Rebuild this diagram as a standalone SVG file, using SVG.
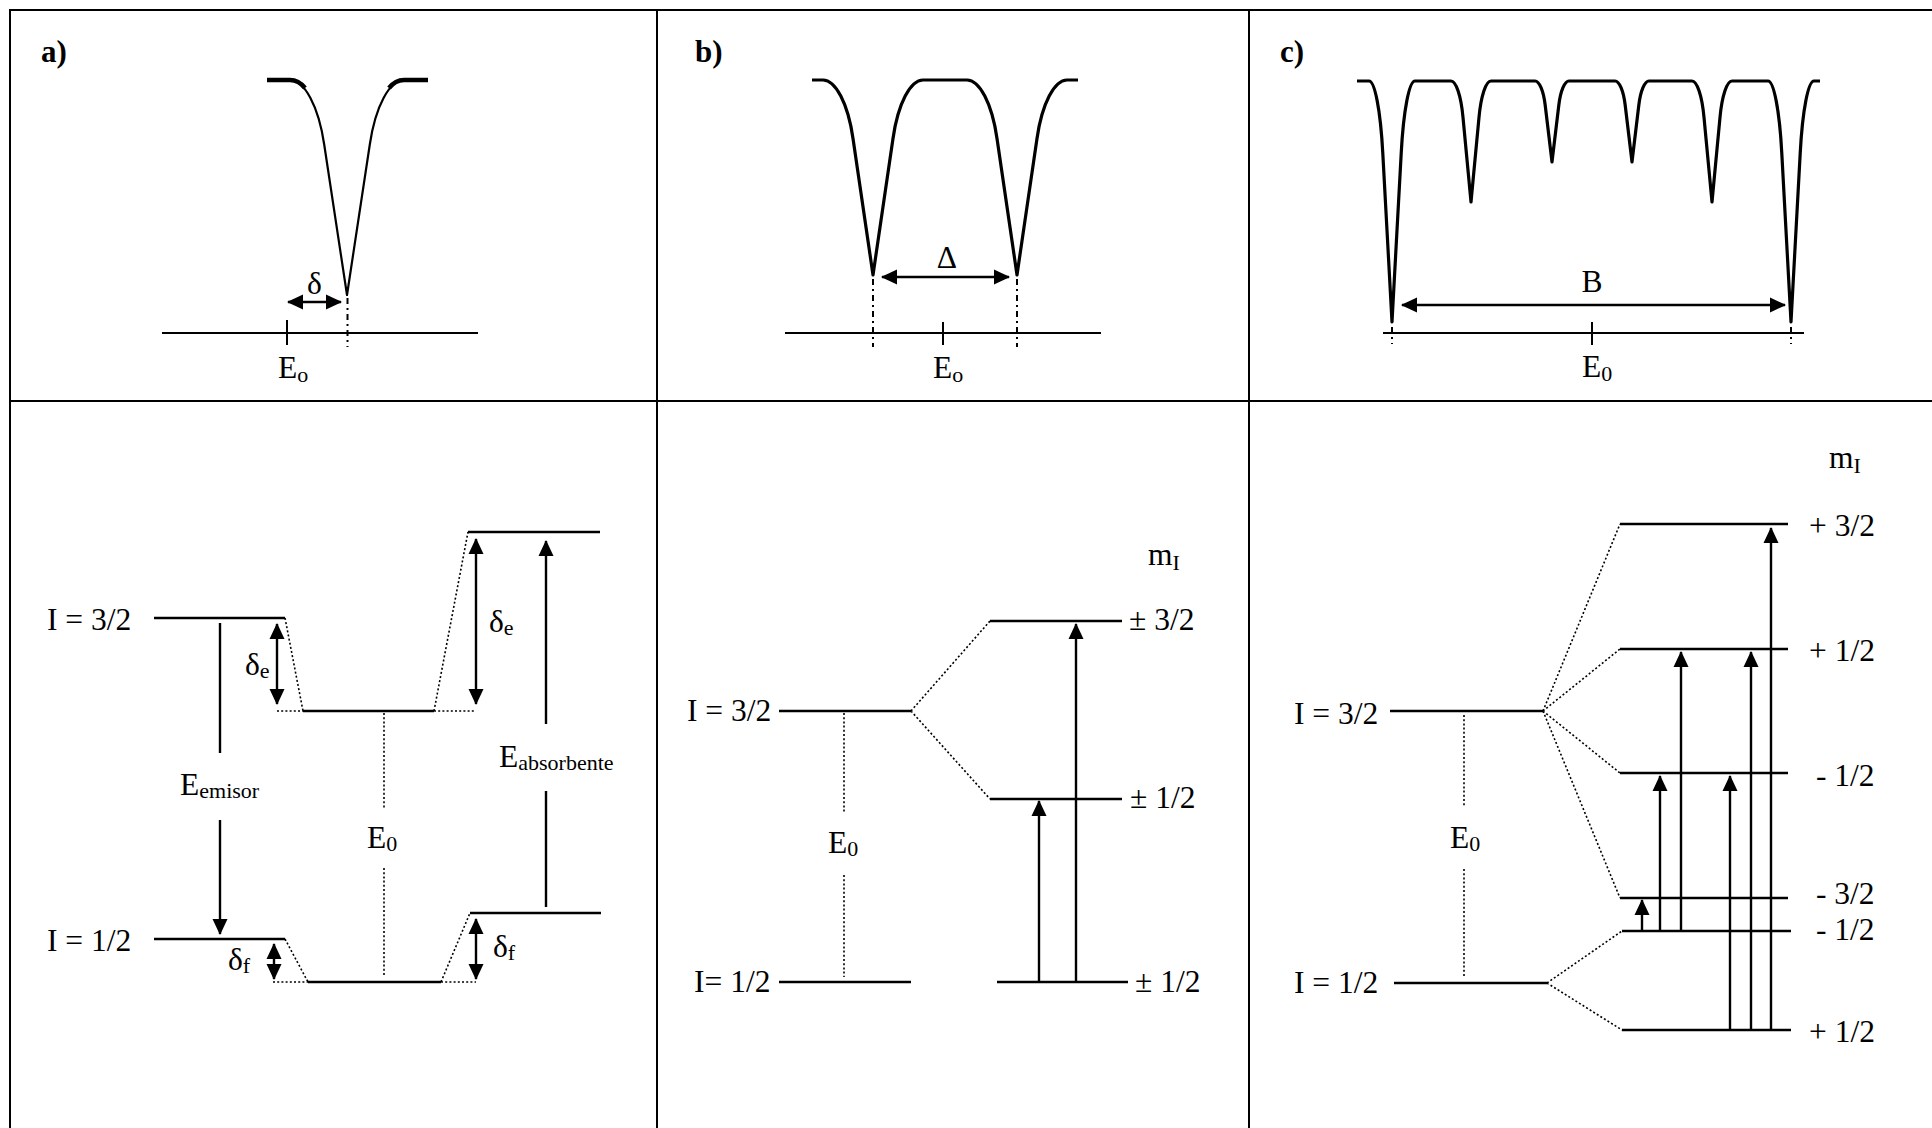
<svg xmlns="http://www.w3.org/2000/svg" width="1932" height="1128" viewBox="0 0 1932 1128">
<defs>
<style>
.fr{stroke:#000;stroke-width:2;fill:none}
.lv{stroke:#000;stroke-width:2.5;fill:none}
.ax{stroke:#000;stroke-width:2;fill:none}
.dt{stroke:#000;stroke-width:1.6;stroke-dasharray:2 2.2;fill:none}
.dd{stroke:#000;stroke-width:2;stroke-dasharray:6 4 2 4;fill:none}
.ar{stroke:#000;stroke-width:2.4;fill:none;marker-end:url(#ah)}
.da{stroke:#000;stroke-width:2.4;fill:none;marker-start:url(#ah);marker-end:url(#ah)}
.ln{stroke:#000;stroke-width:2.4;fill:none}
.cv{stroke:#000;stroke-width:3.2;fill:none;stroke-linejoin:round;stroke-linecap:butt}
.cvt{stroke:#000;stroke-width:2.2;fill:none;stroke-linejoin:round}
.t{font-family:"Liberation Serif","Times New Roman",serif;font-size:31.5px;fill:#000}
.s{font-size:22px}
.b{font-weight:bold;font-size:31px}
</style>
<marker id="ah" viewBox="0 0 16 16" refX="15" refY="8" markerWidth="16" markerHeight="16" markerUnits="userSpaceOnUse" orient="auto-start-reverse">
<path d="M0,0.5 L16,8 L0,15.5 Z" fill="#000"/>
</marker>
</defs>
<rect width="1932" height="1128" fill="#fff"/>

<g id="frame">
<line class="fr" x1="9" y1="10" x2="1932" y2="10"/>
<line class="fr" x1="10" y1="10" x2="10" y2="1128"/>
<line class="fr" x1="657" y1="10" x2="657" y2="1128"/>
<line class="fr" x1="1249" y1="10" x2="1249" y2="1128"/>
<line class="fr" x1="10" y1="401" x2="1932" y2="401"/>
</g>

<g id="panel-a-top">
<text class="t b" x="41" y="62">a)</text>
<path class="cvt" d="M267,80 L290,80 C304.25,80 318.5,105.8 324.2,144.5 L347,295 L369.8,144.5 C375.5,105.8 389.75,80 404,80 L428,80"/>
<path stroke="#000" stroke-width="4.5" fill="none" d="M267,80 L290,80 C296,80 301,83 305,88"/>
<path stroke="#000" stroke-width="4.5" fill="none" d="M428,80 L404,80 C398,80 393,83 389,88"/>
<line class="ax" x1="162" y1="333" x2="478" y2="333"/>
<line class="ax" x1="287" y1="320" x2="287" y2="345"/>
<line class="dd" x1="347.5" y1="298" x2="347.5" y2="347"/>
<text class="t" x="307" y="294">δ</text>
<text class="t" x="278" y="378">E<tspan class="s" dy="4">o</tspan></text>
</g>

<g id="panel-b-top">
<text class="t b" x="695" y="62">b)</text>
<path class="cv" d="M812,80 L823,80 C835.5,80 848,103.4 853,138.5 L873,275 L893,138.5 C898,103.4 910.5,80 923,80 L967,80 C979.5,80 992,103.4 997,138.5 L1017,275 L1037,138.5 C1042,103.4 1054.5,80 1067,80 L1078,80"/>
<line class="ax" x1="785" y1="333" x2="1101" y2="333"/>
<line class="ax" x1="943" y1="322" x2="943" y2="345"/>
<line class="dd" x1="873" y1="279" x2="873" y2="347"/>
<line class="dd" x1="1017" y1="279" x2="1017" y2="347"/>
<text class="t" x="947" y="268" text-anchor="middle">Δ</text>
<text class="t" x="933" y="378">E<tspan class="s" dy="4">o</tspan></text>
</g>

<g id="panel-c-top">
<text class="t b" x="1280" y="62">c)</text>
<path class="cv" d="M1357,81 L1369,81 C1374.75,81 1380.5,109.9 1382.8,153.3 L1392,322 L1401.2,153.3 C1403.5,109.9 1409.25,81 1415,81 L1451,81 C1456,81 1461,95.5 1463,117.3 L1471,202 L1479,117.3 C1481,95.5 1486,81 1491,81 L1535,81 C1539.25,81 1543.5,90.7 1545.2,105.3 L1552,162 L1558.8,105.3 C1560.5,90.7 1564.75,81 1569,81 L1615,81 C1619.25,81 1623.5,90.7 1625.2,105.3 L1632,162 L1638.8,105.3 C1640.5,90.7 1644.75,81 1649,81 L1692,81 C1697,81 1702,95.5 1704,117.3 L1712,202 L1720,117.3 C1722,95.5 1727,81 1732,81 L1768,81 C1773.75,81 1779.5,109.9 1781.8,153.3 L1791,322 L1800.2,153.3 C1802.5,109.9 1808.25,81 1814,81 L1820,81"/>
<line class="ax" x1="1383" y1="333" x2="1804" y2="333"/>
<line class="ax" x1="1592" y1="322" x2="1592" y2="345"/>
<line class="dd" x1="1392" y1="327" x2="1392" y2="344"/>
<line class="dd" x1="1791" y1="327" x2="1791" y2="344"/>
<text class="t" x="1592" y="292" text-anchor="middle">B</text>
<text class="t" x="1582" y="377">E<tspan class="s" dy="4">0</tspan></text>
</g>

<g id="panel-a-bottom">
<line class="lv" x1="154" y1="618" x2="285" y2="618"/>
<line class="lv" x1="303" y1="711" x2="434" y2="711"/>
<line class="lv" x1="468" y1="532" x2="600" y2="532"/>
<line class="lv" x1="154" y1="939" x2="285" y2="939"/>
<line class="lv" x1="308" y1="982" x2="441" y2="982"/>
<line class="lv" x1="470" y1="913" x2="601" y2="913"/>
<path class="dt" d="M285,618 L303,711 M277,711 L303,711 M434,711 L476,711 M434,711 L468,532 M285,939 L308,982 M273,982 L308,982 M441,982 L476,982 M441,982 L470,913"/>
<path class="dt" d="M384,713 L384,808 M384,868 L384,977"/>
<text class="t" x="47" y="630">I = 3/2</text>
<text class="t" x="47" y="951">I = 1/2</text>
<text class="t" x="245" y="675">δ<tspan class="s" dy="3">e</tspan></text>
<text class="t" x="489" y="632">δ<tspan class="s" dy="3">e</tspan></text>
<text class="t" x="228" y="970">δ<tspan class="s" dy="3">f</tspan></text>
<text class="t" x="493" y="957">δ<tspan class="s" dy="3">f</tspan></text>
<text class="t" x="180" y="795">E<tspan class="s" dy="3">emisor</tspan></text>
<text class="t" x="367" y="848">E<tspan class="s" dy="3">0</tspan></text>
<text class="t" x="499" y="767">E<tspan class="s" dy="3">absorbente</tspan></text>
</g>

<g id="panel-b-bottom">
<line class="lv" x1="779" y1="711" x2="911" y2="711"/>
<line class="lv" x1="990" y1="621" x2="1122" y2="621"/>
<line class="lv" x1="990" y1="799" x2="1122" y2="799"/>
<line class="lv" x1="779" y1="982" x2="911" y2="982"/>
<line class="lv" x1="997" y1="982" x2="1128" y2="982"/>
<path class="dt" d="M911,711 L990,621 M911,711 L990,799"/>
<path class="dt" d="M844,713 L844,813 M844,875 L844,977"/>
<text class="t" x="1148" y="565">m<tspan class="s" dy="5">I</tspan></text>
<text class="t" x="1129" y="630">± 3/2</text>
<text class="t" x="1130" y="808">± 1/2</text>
<text class="t" x="1135" y="992">± 1/2</text>
<text class="t" x="687" y="721">I = 3/2</text>
<text class="t" x="694" y="992">I= 1/2</text>
<text class="t" x="828" y="853">E<tspan class="s" dy="3">0</tspan></text>
</g>

<g id="panel-c-bottom">
<line class="lv" x1="1390" y1="711" x2="1543" y2="711"/>
<line class="lv" x1="1394" y1="983" x2="1547" y2="983"/>
<line class="lv" x1="1620" y1="524" x2="1788" y2="524"/>
<line class="lv" x1="1620" y1="649" x2="1788" y2="649"/>
<line class="lv" x1="1620" y1="773" x2="1788" y2="773"/>
<line class="lv" x1="1620" y1="898" x2="1788" y2="898"/>
<line class="lv" x1="1622" y1="931" x2="1791" y2="931"/>
<line class="lv" x1="1622" y1="1030" x2="1791" y2="1030"/>
<path class="dt" d="M1543,711 L1620,524 M1543,711 L1620,649 M1543,711 L1620,773 M1543,711 L1620,898 M1547,983 L1622,931 M1547,983 L1622,1030"/>
<path class="dt" d="M1464,715 L1464,807 M1464,869 L1464,977"/>
<text class="t" x="1829" y="468">m<tspan class="s" dy="5">I</tspan></text>
<text class="t" x="1809" y="536">+ 3/2</text>
<text class="t" x="1809" y="661">+ 1/2</text>
<text class="t" x="1816" y="786">- 1/2</text>
<text class="t" x="1816" y="904">- 3/2</text>
<text class="t" x="1816" y="940">- 1/2</text>
<text class="t" x="1809" y="1042">+ 1/2</text>
<text class="t" x="1294" y="724">I = 3/2</text>
<text class="t" x="1294" y="993">I = 1/2</text>
<text class="t" x="1450" y="848">E<tspan class="s" dy="3">0</tspan></text>
</g>

<g id="connectors">
<line class="da" x1="288" y1="302" x2="341" y2="302"/>
<line class="da" x1="882" y1="277" x2="1009" y2="277"/>
<line class="da" x1="1402" y1="305" x2="1785" y2="305"/>
<line class="da" x1="277" y1="624" x2="277" y2="704"/>
<line class="da" x1="476" y1="539" x2="476" y2="704"/>
<line class="da" x1="274" y1="944" x2="274" y2="979"/>
<line class="da" x1="476" y1="919" x2="476" y2="979"/>
<line class="ln" x1="220" y1="623" x2="220" y2="753"/>
<line class="ar" x1="220" y1="820" x2="220" y2="934"/>
<line class="ln" x1="546" y1="907" x2="546" y2="791"/>
<line class="ar" x1="546" y1="724" x2="546" y2="541"/>
<line class="ar" x1="1039" y1="982" x2="1039" y2="801"/>
<line class="ar" x1="1076" y1="982" x2="1076" y2="624"/>
<line class="ar" x1="1642" y1="930" x2="1642" y2="900"/>
<line class="ar" x1="1660" y1="930" x2="1660" y2="776"/>
<line class="ar" x1="1681" y1="930" x2="1681" y2="652"/>
<line class="ar" x1="1730" y1="1029" x2="1730" y2="776"/>
<line class="ar" x1="1751" y1="1029" x2="1751" y2="652"/>
<line class="ar" x1="1771" y1="1029" x2="1771" y2="528"/>
</g>
</svg>
